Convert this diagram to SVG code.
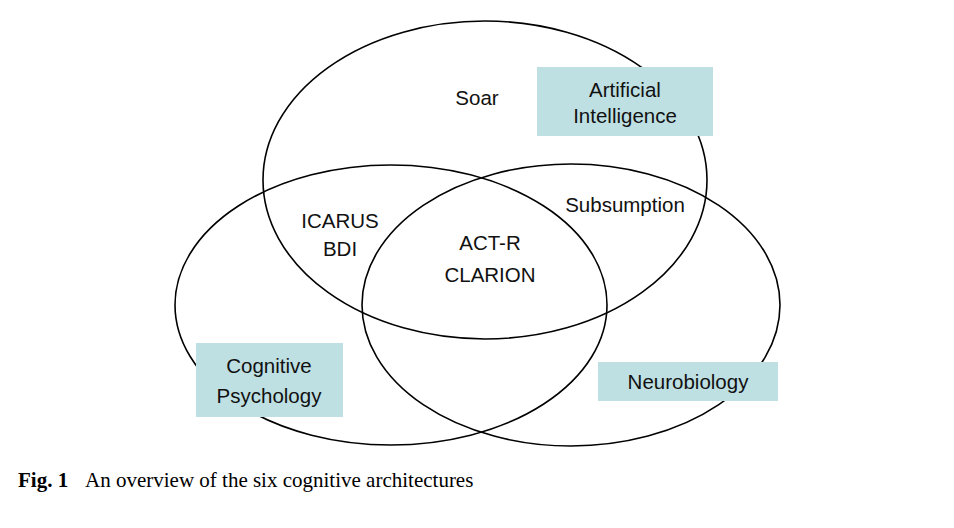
<svg xmlns="http://www.w3.org/2000/svg" width="954" height="528" viewBox="0 0 954 528">
<style>
.e{fill:none;stroke:#000;stroke-width:1.6}
.b{fill:#bee0e3}
.t{font-family:"Liberation Sans",Arial,sans-serif;font-size:20.5px;fill:#111;text-anchor:middle}
.c{font-family:"Liberation Serif","Times New Roman",serif;font-size:21px;fill:#000}
</style>
<rect width="954" height="528" fill="#fff"/>
<g id="sets">
<ellipse id="ai-set" class="e" cx="485" cy="180" rx="222" ry="159"/>
<ellipse id="psych-set" class="e" cx="391" cy="305" rx="216" ry="140"/>
<ellipse id="neuro-set" class="e" cx="571" cy="305" rx="209" ry="141"/>
</g>
<g id="ai-label">
<rect class="b" x="537" y="67" width="176" height="69"/>
<text class="t" x="625" y="97">Artificial</text>
<text class="t" x="625" y="123">Intelligence</text>
</g>
<g id="psych-label">
<rect class="b" x="196" y="343" width="147" height="74"/>
<text class="t" x="269" y="373">Cognitive</text>
<text class="t" x="269" y="403">Psychology</text>
</g>
<g id="neuro-label">
<rect class="b" x="598" y="362" width="180" height="39"/>
<text class="t" x="688" y="389">Neurobiology</text>
</g>
<g id="soar"><text class="t" x="477" y="105">Soar</text></g>
<g id="subsumption"><text class="t" x="625" y="212">Subsumption</text></g>
<g id="icarus-bdi">
<text class="t" x="340" y="228">ICARUS</text>
<text class="t" x="340" y="256">BDI</text>
</g>
<g id="actr-clarion">
<text class="t" x="490" y="250">ACT-R</text>
<text class="t" x="490" y="282">CLARION</text>
</g>
<g id="caption">
<text class="c" x="18" y="487"><tspan font-weight="bold">Fig. 1</tspan><tspan x="85">An overview of the six cognitive architectures</tspan></text>
</g>
</svg>
